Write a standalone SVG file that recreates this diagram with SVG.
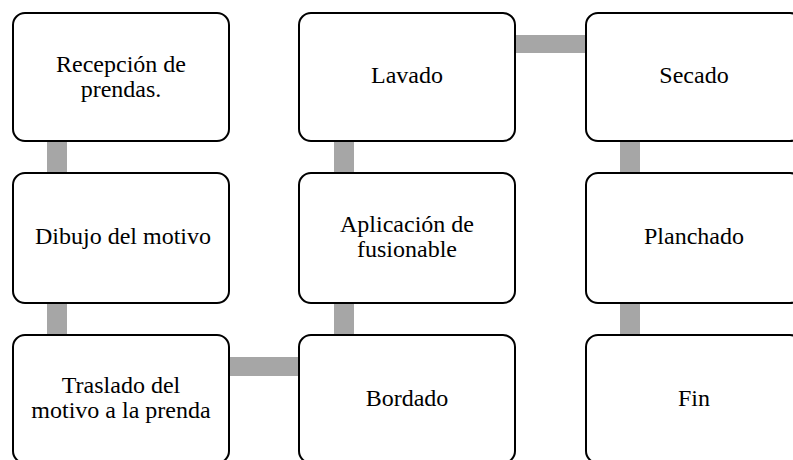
<svg xmlns="http://www.w3.org/2000/svg" width="793" height="460" viewBox="0 0 793 460">
<style>
.box{fill:#fff;stroke:#000;stroke-width:2}
.lbl{font-family:'Liberation Serif','DejaVu Serif',serif;font-size:24px;fill:#000;text-anchor:middle}
.con{fill:#a6a6a6}
</style>
<rect width="793" height="460" fill="#fff"/>
<g id="connectors">
<rect class="con" x="47" y="140" width="20" height="34"/>
<rect class="con" x="47" y="302" width="20" height="34"/>
<rect class="con" x="228" y="357" width="72" height="19"/>
<rect class="con" x="334" y="302" width="20" height="34"/>
<rect class="con" x="334" y="140" width="20" height="34"/>
<rect class="con" x="514" y="35" width="72" height="18"/>
<rect class="con" x="620" y="140" width="20" height="34"/>
<rect class="con" x="620" y="302" width="20" height="34"/>
</g>
<g id="n1"><rect class="box" x="13" y="13" width="216" height="128" rx="12"/><text class="lbl" x="121" y="72">Recepción de</text><text class="lbl" x="121" y="97">prendas.</text></g>
<g id="n2"><rect class="box" x="13" y="173" width="216" height="130" rx="12"/><text class="lbl" x="123" y="244">Dibujo del motivo</text></g>
<g id="n3"><rect class="box" x="13" y="335" width="216" height="128" rx="12"/><text class="lbl" x="121" y="393">Traslado del</text><text class="lbl" x="121" y="418">motivo a la prenda</text></g>
<g id="n4"><rect class="box" x="299" y="335" width="216" height="128" rx="12"/><text class="lbl" x="407" y="406">Bordado</text></g>
<g id="n5"><rect class="box" x="299" y="173" width="216" height="130" rx="12"/><text class="lbl" x="407" y="232">Aplicación de</text><text class="lbl" x="407" y="257">fusionable</text></g>
<g id="n6"><rect class="box" x="299" y="13" width="216" height="128" rx="12"/><text class="lbl" x="407" y="83">Lavado</text></g>
<g id="n7"><rect class="box" x="586" y="13" width="216" height="128" rx="12"/><text class="lbl" x="694" y="83">Secado</text></g>
<g id="n8"><rect class="box" x="586" y="173" width="216" height="130" rx="12"/><text class="lbl" x="694" y="244">Planchado</text></g>
<g id="n9"><rect class="box" x="586" y="335" width="216" height="128" rx="12"/><text class="lbl" x="694" y="406">Fin</text></g>
</svg>
